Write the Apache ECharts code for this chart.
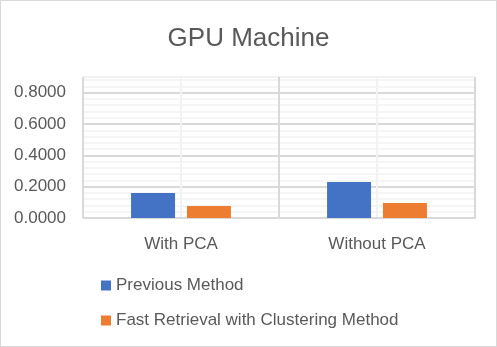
<!DOCTYPE html>
<html>
<head>
<meta charset="utf-8">
<script src="https://cdn.jsdelivr.net/npm/echarts@6/dist/echarts.min.js"></script>
<style>
  html, body { margin: 0; padding: 0; background: #fff; }
  #chart { width: 495px; height: 345px; border: 1px solid #d9d9d9; }
</style>
</head>
<body>
<div id="chart"></div>
<script>
  // data
  const categories = ['With PCA', 'Without PCA'];
  const previousMethod = [0.16, 0.23];
  const fastRetrieval = [0.077, 0.096];
  const seriesNames = ['Previous Method', 'Fast Retrieval with Clustering Method'];

  const textColor = '#595959';
  const font = 'Liberation Sans';

  const chart = echarts.init(document.getElementById('chart'));

  const option = {
    animation: false,
    title: {
      text: 'GPU Machine',
      left: 'center',
      top: 20,
      textStyle: { fontFamily: font, fontSize: 26, fontWeight: 'normal', color: textColor }
    },
    grid: { left: 82, right: 21, top: 76, bottom: 128 },
    legend: {
      orient: 'vertical',
      left: 95,
      top: 271,
      itemWidth: 10,
      itemHeight: 10,
      itemGap: 18,
      icon: 'rect',
      textStyle: { fontFamily: font, fontSize: 17, color: textColor },
      data: seriesNames
    },
    xAxis: [
      {
        type: 'category',
        data: categories,
        axisLine: { lineStyle: { color: '#d9d9d9', width: 2 } },
        axisTick: { show: false },
        axisLabel: { fontFamily: font, fontSize: 17, color: textColor, margin: 18 },
        splitLine: { show: false }
      },
      {
        // only for the vertical grid lines
        type: 'value',
        min: 0,
        max: 4,
        interval: 1,
        position: 'bottom',
        axisLine: { show: false },
        axisTick: { show: false },
        axisLabel: { show: false },
        splitLine: { show: true, lineStyle: { color: ['#d9d9d9', '#f2f2f2'], width: 2 } }
      }
    ],
    yAxis: {
      type: 'value',
      min: 0,
      max: 0.9,
      interval: 0.2,
      axisLine: { show: false },
      axisTick: { show: false },
      axisLabel: {
        fontFamily: font, fontSize: 17, color: textColor, margin: 17,
        showMaxLabel: false,
        formatter: v => v.toFixed(4)
      },
      // top line (0.9) is a light one in the original
      splitLine: { lineStyle: { color: ['#d9d9d9', '#d9d9d9', '#d9d9d9', '#d9d9d9', '#d9d9d9', '#f2f2f2'], width: 2 } },
      minorTick: { show: false, splitNumber: 5 },
      minorSplitLine: { show: true, lineStyle: { color: '#f2f2f2', width: 1.5 } }
    },
    series: [
      {
        name: seriesNames[0],
        type: 'bar',
        data: previousMethod,
        barWidth: 44,
        barGap: '27%',
        itemStyle: { color: '#4472C4' }
      },
      {
        name: seriesNames[1],
        type: 'bar',
        data: fastRetrieval,
        barWidth: 44,
        itemStyle: { color: '#ED7D31' }
      }
    ]
  };

  chart.setOption(option);
</script>
</body>
</html>
